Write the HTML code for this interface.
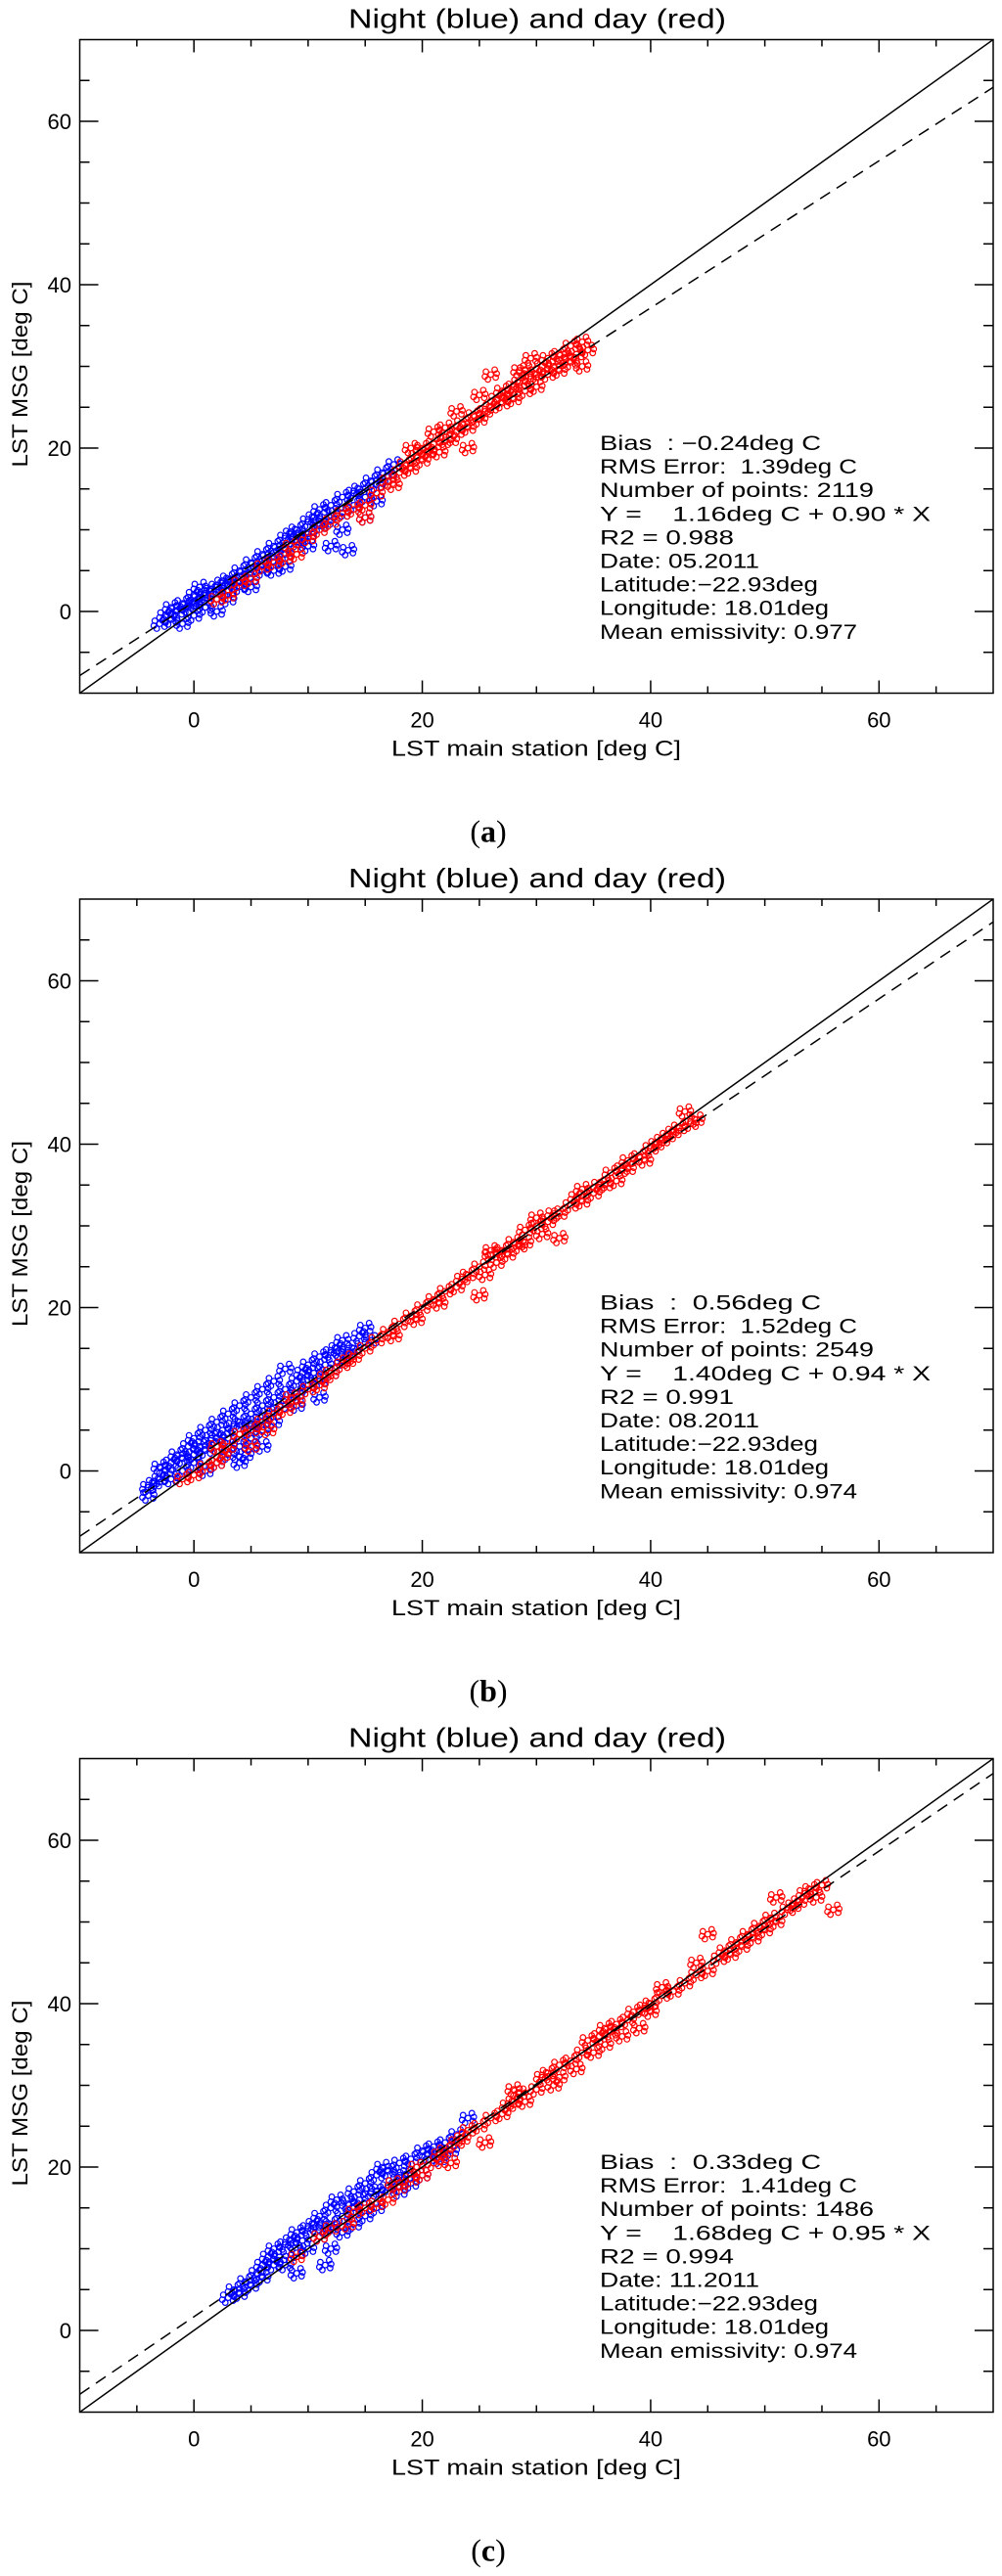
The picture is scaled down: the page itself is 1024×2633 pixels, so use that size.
<!DOCTYPE html>
<html><head><meta charset="utf-8">
<style>
html,body{margin:0;padding:0;background:#fff;}
svg{display:block;}
text{font-family:"Liberation Sans",sans-serif;fill:#000;white-space:pre;}
</style></head>
<body>
<svg id="fig" width="1024" height="2633" viewBox="0 0 1024 2633" xmlns="http://www.w3.org/2000/svg"></svg>
<script>
// ---- data ----
const xTicks = [0, 20, 40, 60];
const yTicks = [0, 20, 40, 60];
const panelLetters = ["a", "b", "c"];
const intercepts = [1.16, 1.40, 1.68];
const slopes = [0.90, 0.94, 0.95];
const statsA = ["Bias  : -0.24deg C","RMS Error:  1.39deg C","Number of points: 2119","Y =    1.16deg C + 0.90 * X","R2 = 0.988","Date: 05.2011","Latitude:-22.93deg","Longitude: 18.01deg","Mean emissivity: 0.977"];
const statsB = ["Bias  :  0.56deg C","RMS Error:  1.52deg C","Number of points: 2549","Y =    1.40deg C + 0.94 * X","R2 = 0.991","Date: 08.2011","Latitude:-22.93deg","Longitude: 18.01deg","Mean emissivity: 0.974"];
const statsC = ["Bias  :  0.33deg C","RMS Error:  1.41deg C","Number of points: 1486","Y =    1.68deg C + 0.95 * X","R2 = 0.994","Date: 11.2011","Latitude:-22.93deg","Longitude: 18.01deg","Mean emissivity: 0.974"];

const aBlueX = [-3,-2.5,-2,-2,-1.5,-1,-1,-0.5,0,0,0,0.5,0.5,1,1,1.5,2,2,2.5,3,3,3.5,4,4,4.5,5,5,5.5,6,6,6.5,7,7,7.5,8,8,8,8.5,9,9,9.5,10,10,10.5,11,11,11.5,12,12,12.5,13,13,13.5,14,14,14.5,15,15,15.5,16,16.5,17,17.5,13,7,10,2,5,3,16];
const aBlueY = [-1.5,-0.5,-1,0.5,0,1,-1.5,0.5,1,2,-0.5,1.5,3,2,0.5,2.5,3,1.5,3.5,2.5,4,3.5,5,3,4.5,6,4,5.5,7,5,6.5,8,6,7.5,9,7,5.5,9.5,8.5,10,9,11,9.5,11.5,10.5,12.5,11,13,8,12,14,12,7.5,14.5,13,15,14,11.5,16,15.5,17,16.5,18,10,5,8,0,3,1.5,13.5];
const aRedX = [2,3,4,5,6,7,8,8.5,9,10,11,12,13,14,15,15,16,17,17.5,18,18.5,19,19.5,20,20,20.5,21,21.5,22,22,22.5,23,23.5,24,24,24.5,25,25,25.5,26,26,26.5,27,27,27.5,28,28,28.5,29,29,29.5,30,30,30.5,31,31,31.5,32,32,32.5,33,33,33.5,34,34,34.5,29.5,19,21,23,28.5];
const aRedY = [1.5,2,3.5,4,5.5,6,6.5,8,7,9,10,11,12,12.5,13,11.5,14.5,16,15.5,17,18,17.5,19,18.5,20,19.5,20.5,19.5,21,22.5,21,22,23,22.5,20,24,23.5,26.5,24.5,25,29,26,25.5,27,26.5,27.5,26,28,27,29.5,28.5,29,27.5,30,29,31,30,31.5,29.5,31,32.5,30.5,31.5,33,30,32,31,20,22,24.5,29.5];

const bBlueX = [-4,-4,-3.5,-3,-3,-2.5,-2,-2,-1.5,-1,-1,-0.5,0,0,0,0.5,1,1,1.5,2,2,2,2.5,3,3,3.5,4,4,4,4.5,5,5,5,5.5,6,6,6,6.5,7,7,7.5,8,8,8.5,9,9,9.5,10,10,10.5,11,11,11.5,12,12,12.5,13,13,13.5,14,14.5,15,15.5,4,3,1,7,5,9,2,6,11];
const bBlueY = [-3,-2,-1.5,-1,0.5,0,1,-1,2,1.5,0,3,2,4,1,3,2.5,5,4,3,6,1,5,4,7,5.5,6,8,1,2,7,9,4,6,8,10,5,7,9,11,8,10,12.5,9,11,8,12,10.5,13,12,14,11,13,14.5,12,15,13.5,16,14.5,15,16.5,17.5,16,3,2,0,6,5.5,9.5,4,3,9];
const bRedX = [-1,0,1,2,2,2.5,3,4,5,5,6,6.5,7,8,8.5,9,10,11,11.5,12,13,13.5,14,15,16,17,17.5,18,19,19.5,20,21,21.5,22,23,23.5,24,25,25,25.5,26,26.5,27,27.5,28,28.5,29,29,30,30.5,31,31.5,32,32,33,33.5,34,35,35.5,36,36.5,37,37.5,38,39,39.5,40,40.5,41,41.5,42,42.5,43,43.5,44,26,30,34,38];
const bRedY = [-1,-0.5,0.5,1,3,2,3,4.5,5,3,6,5,7,7.5,9,8.5,10,10.5,11.5,12,13,13.5,14,15,16,17,16.5,18,19,18.5,20,21,20.5,22,22.5,23.5,24,25,21.5,24,26.5,25.5,27,26.5,28,27.5,28,29.5,30,29,30.5,31.5,31.5,28.5,32.5,33.5,33,34,35,35,36.5,35.5,37,37,38.5,38,39.5,40,40.5,41,41.5,42,44,42.5,43,27,31,34.5,38];

const cBlueX = [3,3.5,4,4.5,5,5.5,6,6,6.5,7,7,7.5,8,8,8.5,9,9,9.5,10,10,10.5,11,11,11.5,12,12,12,12.5,13,13,13.5,14,14,14.5,15,15,15.5,16,16,16.5,17,17,17.5,18,18,18.5,19,19,19.5,20,20,20.5,21,21.5,22,22.5,23,24,9,11.5,14,16,18];
const cBlueY = [4,5,4.5,6,5.5,7,6.5,8,9,8,10,9,10.5,8,11,9.5,12,11,12.5,10,13,11.5,14,8,13,15,10,16,14,12,15.5,17,13,16,18,14,17,19,15,20,17.5,19.5,18,20.5,17,19,21,18,20,22,19,21.5,22.5,21,23,22,24,26,7,12.5,15,17,19];
const cRedX = [9,11,12,13.5,14,15,16,17,17.5,18,19,19.5,20,21,21.5,22,22.5,23,23.5,24,25,25.5,26,27,27.5,28,28.5,29,30,30.5,31,31.5,32,33,33.5,34,34.5,35,35.5,36,36.5,37,37.5,38,38.5,39,39.5,40,41,41,42,43,44,45,45,46,46.5,47,47.5,48,48.5,49,49.5,50,50.5,51,51,52,52.5,53,53.5,54,54.5,55,56,40,44,36,28,32];
const cRedY = [9,11.5,12.5,13,14.5,15,15.5,16,18,17.5,18.5,20,19,20.5,21.5,22,20.5,23,23.5,24.5,25,23,26,26.5,27.5,28,29,28,29.5,31,31.5,30,32.5,33,32,34,35.5,34,36,35,36.5,37.5,36,38,39,37,39.5,40,41,42,41.5,42.5,43.5,48.5,44,45.5,46.5,46,47.5,47,48.5,48,49.5,49,50.5,50,53,51.5,52,52.5,53.5,54,53,54.5,51.5,39,45,37,29.5,31];

const blueX = [aBlueX, bBlueX, cBlueX], blueY = [aBlueY, bBlueY, cBlueY];
const redX = [aRedX, bRedX, cRedX], redY = [aRedY, bRedY, cRedY];
const stats = [statsA, statsB, statsC];

// ---- layout / style ----
const NS = "http://www.w3.org/2000/svg";
const svg = document.getElementById("fig");
const panelTops = [40.5, 919, 1797.5];
const L = 81.5, R = 1015, H = 668;
const XMIN = -10, XMAX = 70, YMIN = -10, YMAX = 70;
const statWidths = [226, 263, 280, 338, 137, 163, 223, 234, 263];
// marker glyph: a small cloud of rings around each point (pixel style, not data)
const cloud = [[0,0],[-5,-3],[5,3],[-3,5],[4,-5],[-6,2],[6,-1]];

function mk(tag, attrs, parent) {
  const e = document.createElementNS(NS, tag);
  for (const k in attrs) e.setAttribute(k, attrs[k]);
  parent.appendChild(e);
  return e;
}

panelTops.forEach((top, p) => {
  const sx = v => L + (v - XMIN) / (XMAX - XMIN) * (R - L);
  const sy = v => top + (YMAX - v) / (YMAX - YMIN) * H;
  const bot = top + H;
  const g = mk("g", {}, svg);
  
  

  const t = mk("text", {x: 356, y: top - 12, "font-size": 28, textLength: 386, lengthAdjust: "spacingAndGlyphs"}, g);
  t.textContent = "Night (blue) and day (red)";
  
  

  const cp = mk("clipPath", {id: "clip" + p}, g);
  mk("rect", {x: L, y: top, width: R - L, height: H}, cp);

  const data = mk("g", {"clip-path": "url(#clip" + p + ")"}, g);
  
  

  const bg = mk("g", {fill: "none", stroke: "#0000ff", "stroke-width": 1.2}, data);
  
  
  blueX[p].forEach((x, i) => {
    const pg = mk("g", {transform: "translate(" + sx(x) + "," + sy(blueY[p][i]) + ")"}, bg);
    
    
    cloud.forEach(o => mk("circle", {cx: o[0], cy: o[1], r: 2.8}, pg));
  });
  const rg = mk("g", {fill: "none", stroke: "#ff0000", "stroke-width": 1.2}, data);
  
  
  redX[p].forEach((x, i) => {
    const pg = mk("g", {transform: "translate(" + sx(x) + "," + sy(redY[p][i]) + ")"}, rg);
    
    
    cloud.forEach(o => mk("circle", {cx: o[0], cy: o[1], r: 2.8}, pg));
  });

  const l1 = mk("line", {x1: sx(XMIN), y1: sy(XMIN), x2: sx(XMAX), y2: sy(XMAX), stroke: "#000", "stroke-width": 1.5}, data);
  
  
  const l2 = mk("line", {x1: sx(XMIN), y1: sy(intercepts[p] + slopes[p] * XMIN), x2: sx(XMAX), y2: sy(intercepts[p] + slopes[p] * XMAX), stroke: "#000", "stroke-width": 1.5, "stroke-dasharray": "12 8"}, data);
  
  

  const fr = mk("rect", {x: L, y: top, width: R - L, height: H, fill: "none", stroke: "#000", "stroke-width": 1.5}, g);
  
  

  const tg = mk("g", {stroke: "#000", "stroke-width": 1.5}, g);
  
  
  for (let v = -5; v < 70; v += 5) {
    const major = v % 20 === 0;
    const lx = major ? 13 : 7, ly = major ? 19 : 10;
    mk("line", {x1: sx(v), y1: bot, x2: sx(v), y2: bot - lx}, tg);
    mk("line", {x1: sx(v), y1: top, x2: sx(v), y2: top + lx}, tg);
    mk("line", {x1: L, y1: sy(v), x2: L + ly, y2: sy(v)}, tg);
    mk("line", {x1: R, y1: sy(v), x2: R - ly, y2: sy(v)}, tg);
  }
  xTicks.forEach(v => {
    const e = mk("text", {x: sx(v), y: bot + 35, "font-size": 22, "text-anchor": "middle"}, g);
    e.textContent = v;
    
    
  });
  yTicks.forEach(v => {
    const e = mk("text", {x: 73, y: sy(v) + 8, "font-size": 22, "text-anchor": "end"}, g);
    e.textContent = v;
    
    
  });
  const xl = mk("text", {x: 400, y: bot + 64, "font-size": 22, textLength: 296, lengthAdjust: "spacingAndGlyphs"}, g);
  xl.textContent = "LST main station [deg C]";
  
  
  const yl = mk("text", {x: 0, y: 0, "font-size": 22, "text-anchor": "middle", textLength: 190, lengthAdjust: "spacingAndGlyphs", transform: "translate(28," + (top + 342) + ") rotate(-90)"}, g);
  yl.textContent = "LST MSG [deg C]";
  
  

  const sg = mk("g", {}, g);
  
  
  stats[p].forEach((s, i) => {
    const e = mk("text", {x: 613, y: top + 419.5 + i * 24.1, "font-size": 21, textLength: statWidths[i], lengthAdjust: "spacingAndGlyphs"}, sg);
    e.textContent = s.replace("-", "\u2212");
    
    
  });

  const pl = mk("text", {x: 499, y: top + 820, "font-size": 32, "text-anchor": "middle"}, g);
  pl.style.fontFamily = '"Liberation Serif", serif';
  pl.innerHTML = '(<tspan font-weight="bold">' + panelLetters[p] + '</tspan>)';
  
  
});
</script>
</body></html>
